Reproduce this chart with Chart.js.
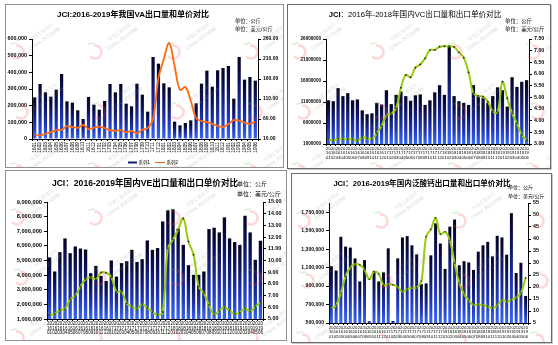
<!DOCTYPE html>
<html lang="zh-CN">
<head>
<meta charset="utf-8">
<title>JCI 出口量和出口单价对比</title>
<script src="https://cdn.jsdelivr.net/npm/chart.js@4.4.1/dist/chart.umd.min.js"></script>
<style>
html,body{margin:0;padding:0;background:#fff;}
body{position:relative;width:558px;height:345px;overflow:hidden;font-family:"Liberation Sans","Noto Sans CJK SC",sans-serif;color:#000;}
.panel{position:absolute;background:#fff;}
.panel canvas{position:absolute;left:0;top:0;}
.frame{position:absolute;left:0;top:0;right:0;bottom:0;border:1px solid #8f8f8f;pointer-events:none;}
.frame.dark{border-color:#6a6a6a;box-shadow:1px 1px 0 #c8c8c8;}
.t{position:absolute;white-space:nowrap;line-height:1;z-index:5;}
.title{font-weight:bold;transform:translate(-50%,-50%);}
.small{font-size:10px;transform-origin:0 0;}
.lg{position:absolute;top:0;}
</style>
</head>
<body>

<div class="panel" style="left:5px;top:4px;width:279px;height:164px"><canvas id="cVA" width="279" height="164"></canvas><div class="frame"></div></div>
<div class="panel" style="left:287px;top:4px;width:264px;height:165px"><canvas id="cVC" width="264" height="165"></canvas><div class="frame dark"></div></div>
<div class="panel" style="left:5px;top:170px;width:282px;height:171px"><canvas id="cVE" width="282" height="171"></canvas><div class="frame"></div></div>
<div class="panel" style="left:291px;top:173px;width:261px;height:170px"><canvas id="cCP" width="261" height="170"></canvas><div class="frame dark"></div></div>

<!-- titles and units -->
<div class="t title" style="left:133px;top:15px;font-size:8px">JCI:2016-2019年我国VA出口量和单价对比</div>
<div class="t small" style="left:235px;top:19.4px;transform:scale(.52)">单位：公斤</div>
<div class="t small" style="left:235px;top:26.9px;transform:scale(.52)">单位：美元/公斤</div>

<div class="t title" style="left:415px;top:15px;font-size:7.6px;font-weight:normal"><b>JCI</b>：2016年-2018年国内VC出口量和出口单价对比</div>
<div class="t small" style="left:505px;top:19.3px;transform:scale(.54)">单位：公斤</div>
<div class="t small" style="left:505px;top:27.3px;transform:scale(.54)">单位：美元/公斤</div>

<div class="t title" style="left:145px;top:183px;font-size:8.6px">JCI：2016-2019年国内VE出口量和出口单价对比</div>
<div class="t small" style="left:237px;top:181px;transform:scale(.6)">单位：公斤</div>
<div class="t small" style="left:237px;top:191px;transform:scale(.6)">单位：美元/公斤</div>

<div class="t title" style="left:422px;top:184px;font-size:7.6px">JCI：2016-2019年国内泛酸钙出口量和出口单价对比</div>
<div class="t small" style="left:508px;top:184.5px;transform:scale(.5)">单位：公斤</div>
<div class="t small" style="left:508px;top:193.5px;transform:scale(.5)">单位：美元/公斤</div>

<!-- legend of the VA chart -->
<div class="t small" style="left:128px;top:159.5px;width:110px;height:10px;transform:scale(.5)">
  <span class="lg" style="left:0;top:3px;width:18px;height:4px;background:#14206e"></span>
  <span class="lg" style="left:21px;font-size:9px">系列1</span>
  <span class="lg" style="left:54px;top:4px;width:20px;height:2px;background:#ff6a10"></span>
  <span class="lg" style="left:77px;font-size:9px">系列2</span>
</div>

<script>
// month categories, 2016-01 .. 2019-06
const MONTHS = ['1601','1602','1603','1604','1605','1606','1607','1608','1609','1610','1611','1612',
                '1701','1702','1703','1704','1705','1706','1707','1708','1709','1710','1711','1712',
                '1801','1802','1803','1804','1805','1806','1807','1808','1809','1810','1811','1812',
                '1901','1902','1903','1904','1905','1906'];

// VA: export quantity (kg) and unit price (USD/kg)
const VA_QTY = [250000,330000,280000,254000,296000,390000,226000,218000,172000,120000,252000,206000,
                176000,228000,330000,280000,330000,212000,196000,332000,266000,164000,492000,452000,
                334000,310000,104000,82000,96000,112000,214000,332000,410000,314000,412000,426000,
                438000,242000,492000,356000,372000,350000];
const VA_PRICE = [22,19,23,27,32,33,42,40,38,45,35,38,
                  41,37,32,30,32,27,30,24,33,37,60,162,
                  210,250,192,133,140,106,62,55,52,48,43,40,
                  47,57,56,51,48,53];
const VA_QTY_TICKS = [0,100000,200000,300000,400000,500000,600000];
const VA_PRICE_TICKS = [10,60,110,160,210,260];

// VC
const VC_QTY = [11400000,11200000,14300000,12400000,13100000,11400000,11600000,9000000,8100000,8300000,10800000,10400000,
                13800000,10500000,12700000,13500000,12400000,11300000,12600000,12800000,10300000,11400000,13300000,15000000,
                12700000,24200000,12400000,11200000,10800000,10300000,15000000,12400000,11900000,10800000,12400000,14500000,
                13800000,9900000,16900000,14600000,15800000,16200000];
const VC_PRICE = [3.21,3.14,3.24,3.19,3.21,3.20,3.13,3.30,3.24,3.21,3.46,3.77,
                  4.24,4.30,4.53,5.41,5.96,5.86,6.27,6.41,6.67,7.03,7.03,7.17,
                  7.19,7.19,7.16,6.93,6.70,6.07,5.17,5.06,5.03,4.81,4.41,4.36,
                  5.67,4.96,4.31,3.89,3.39,3.17];
const VC_QTY_TICKS = [1000000,6000000,11000000,16000000,21000000,26000000];
const VC_PRICE_TICKS = [3,3.5,4,4.5,5,5.5,6,6.5,7,7.5];

// VE
const VE_QTY = [5210000,4250000,5570000,6510000,5500000,5960000,5820000,5750000,4130000,4630000,3950000,3600000,
                5000000,3900000,4820000,4950000,5730000,4900000,5090000,6370000,5730000,5850000,7670000,8430000,
                8500000,7170000,6070000,4680000,4020000,4020000,4250000,7150000,7240000,6920000,7950000,6510000,
                6260000,6070000,8060000,6920000,5050000,6350000];
const VE_PRICE = [5.34,5.43,5.77,5.83,6.69,6.97,7.77,8.40,8.57,8.40,8.97,8.95,
                  8.57,7.34,7.34,6.34,6.06,5.83,6.29,5.95,5.60,5.35,5.60,11.06,
                  11.77,12.63,13.60,11.63,10.49,7.77,7.20,6.20,5.34,5.71,6.00,5.71,
                  5.43,5.54,5.91,5.63,6.06,6.40];
const VE_QTY_TICKS = [1000000,2000000,3000000,4000000,5000000,6000000,7000000,8000000,9000000];
const VE_PRICE_TICKS = [5,6,7,8,9,10,11,12,13,14,15];

// calcium pantothenate
const CP_QTY = [1115000,1068000,1434000,1328000,1317000,1200000,950000,1181000,518000,1060000,950000,1049000,
                1309000,522000,1200000,1427000,1441000,1342000,1243000,921000,929000,1233000,1580000,1361000,
                1086000,1544000,1621000,1126000,1170000,1156000,1075000,1273000,1342000,1379000,1222000,1445000,
                1427000,1240000,1690000,1042000,1152000,793000];
const CP_PRICE = [11.0,12.4,17.5,24.5,28.2,29.5,29.2,27.2,23.2,26.4,25.4,20.8,
                  21.2,20.9,20.1,18.0,19.1,19.7,19.8,22.5,41.0,44.0,48.8,42.0,
                  43.0,39.5,30.0,21.8,17.0,14.5,12.5,12.8,12.4,11.8,11.3,12.2,
                  14.5,14.0,14.5,15.8,17.5,23.8];
const CP_QTY_TICKS = [500000,700000,900000,1100000,1300000,1500000,1700000];
const CP_QTY_MAX = 1800000;
const CP_PRICE_TICKS = [5,10,15,20,25,30,35,40,45,50,55];

const FONT = '"Liberation Sans", "Noto Sans CJK SC", sans-serif';
const stacked = m => ['20', m.slice(0, 2), m.slice(2)];

// each bar gets its own navy-top / blue-bottom gradient
function barFill(ctx) {
  const chart = ctx.chart, area = chart.chartArea;
  if (!area || ctx.type !== 'data') return '#1a2a80';
  const top = chart.scales.y.getPixelForValue(ctx.raw);
  const g = chart.ctx.createLinearGradient(0, top, 0, area.bottom);
  g.addColorStop(0, '#030320');
  g.addColorStop(0.3, '#0c1460');
  g.addColorStop(0.7, '#2038b8');
  g.addColorStop(1, '#3566f5');
  return g;
}

// faint site watermark tiled over every panel
const watermark = {
  id: 'watermark',
  afterDatasetsDraw(chart) {
    const c = chart.ctx;
    c.save();
    for (let row = 0, y = 48; y < chart.height + 30; y += 60, row++) {
      for (let x = 12 + (row % 2) * 4; x < chart.width + 20; x += 78) {
        c.lineCap = 'round';
        c.strokeStyle = 'rgba(235,80,80,0.22)';
        c.lineWidth = 2.6;
        c.beginPath();
        c.arc(x, y, 6.5, -Math.PI * 0.5, Math.PI * 0.72);
        c.stroke();
        c.strokeStyle = 'rgba(90,200,90,0.25)';
        c.lineWidth = 1.6;
        c.beginPath();
        c.moveTo(x - 6, y - 8);
        c.lineTo(x - 1, y - 9);
        c.stroke();
        c.translate(x + 12, y - 4);
        c.rotate(-0.62);
        c.fillStyle = 'rgba(140,140,140,0.28)';
        c.font = '4.5px ' + FONT;
        c.fillText('中国汇易资讯', 6, -4);
        c.font = 'bold 5px ' + FONT;
        c.fillText('China JCI.COM', 0, 3);
        c.setTransform(1, 0, 0, 1, 0, 0);
      }
    }
    c.restore();
  }
};

function axisSide(pos, ticks, min, max, width, fmt, size, weight) {
  return {
    position: pos,
    min: min, max: max,
    afterBuildTicks: s => { s.ticks = ticks.map(v => ({ value: v })); },
    afterFit: s => { s.width = width; },
    grid: { drawOnChartArea: false, drawTicks: true, tickLength: 3, color: '#000', lineWidth: 1 },
    border: { display: true, color: '#000', width: 1 },
    ticks: { callback: fmt, padding: 2, color: '#000', font: { family: FONT, size: size, weight: weight } }
  };
}

function makeChart(id, cfg) {
  const p = cfg.panel, r = cfg.plot;
  const leftW = r.l - p.x, rightW = p.w - (r.r - p.x);
  const top = r.t - p.y, bottom = p.h - (r.b - p.y) - cfg.xH;
  return new Chart(document.getElementById(id), {
    data: {
      labels: cfg.labels,
      datasets: [
        { type: 'line', data: cfg.price, yAxisID: 'y2', order: 0,
          borderColor: cfg.lineColor, borderWidth: cfg.lineWidth, tension: 0.38,
          pointRadius: cfg.pointRadius, pointBackgroundColor: '#26301a', pointBorderWidth: 0 },
        { type: 'bar', data: cfg.qty, yAxisID: 'y', order: 1,
          backgroundColor: barFill, barPercentage: cfg.barPct, categoryPercentage: 1 }
      ]
    },
    options: {
      responsive: false, animation: false, devicePixelRatio: 1,
      layout: { autoPadding: false, padding: { left: 0, right: 0, top: top, bottom: bottom } },
      plugins: { legend: { display: false }, tooltip: { enabled: false } },
      scales: {
        x: {
          afterFit: s => { s.height = cfg.xH; },
          grid: { drawOnChartArea: false, tickLength: 2, color: '#000' },
          border: { display: true, color: '#000', width: 1 },
          ticks: Object.assign({ autoSkip: false, color: '#000', padding: 1 }, cfg.xTicks)
        },
        y: axisSide('left', cfg.qtyTicks, cfg.qtyTicks[0], cfg.qtyMax || cfg.qtyTicks[cfg.qtyTicks.length - 1],
                    leftW, cfg.qtyFmt, cfg.ySize, 'bold'),
        y2: axisSide('right', cfg.priceTicks, cfg.priceTicks[0], cfg.priceTicks[cfg.priceTicks.length - 1],
                     rightW, cfg.priceFmt, cfg.y2Size, 'bold')
      }
    },
    plugins: [watermark]
  });
}

const comma = v => v.toLocaleString('en-US');
const fixed2 = v => v.toFixed(2);

makeChart('cVA', {
  panel: { x: 5, y: 4, w: 279, h: 164 }, plot: { l: 32, r: 258, t: 39, b: 139 }, xH: 17,
  labels: MONTHS, qty: VA_QTY, price: VA_PRICE,
  qtyTicks: VA_QTY_TICKS, priceTicks: VA_PRICE_TICKS, qtyFmt: comma, priceFmt: fixed2,
  ySize: 5.4, y2Size: 5, barPct: 0.6,
  lineColor: '#ff6a10', lineWidth: 1.8, pointRadius: 0,
  xTicks: { minRotation: 90, maxRotation: 90, font: { family: FONT, size: 4.8 } }
});

makeChart('cVC', {
  panel: { x: 287, y: 4, w: 264, h: 165 }, plot: { l: 326, r: 529, t: 39, b: 144 }, xH: 17,
  labels: MONTHS.map(stacked), qty: VC_QTY, price: VC_PRICE,
  qtyTicks: VC_QTY_TICKS, priceTicks: VC_PRICE_TICKS, qtyFmt: v => String(v), priceFmt: fixed2,
  ySize: 4.6, y2Size: 5.3, barPct: 0.68,
  lineColor: '#99cc10', lineWidth: 2, pointRadius: 0.9,
  xTicks: { minRotation: 0, maxRotation: 0, font: { family: FONT, size: 4.2, lineHeight: 1 } }
});

makeChart('cVE', {
  panel: { x: 5, y: 170, w: 282, h: 171 }, plot: { l: 47, r: 263, t: 202, b: 319 }, xH: 19,
  labels: MONTHS.map(stacked), qty: VE_QTY, price: VE_PRICE,
  qtyTicks: VE_QTY_TICKS, priceTicks: VE_PRICE_TICKS, qtyFmt: comma, priceFmt: fixed2,
  ySize: 5.7, y2Size: 5.4, barPct: 0.65,
  lineColor: '#99cc10', lineWidth: 2, pointRadius: 0.9,
  xTicks: { minRotation: 0, maxRotation: 0, font: { family: FONT, size: 4.5, lineHeight: 1 } }
});

makeChart('cCP', {
  panel: { x: 291, y: 173, w: 261, h: 170 }, plot: { l: 329, r: 528, t: 203, b: 323 }, xH: 17,
  labels: MONTHS.map(stacked), qty: CP_QTY, price: CP_PRICE,
  qtyTicks: CP_QTY_TICKS, qtyMax: CP_QTY_MAX, priceTicks: CP_PRICE_TICKS, qtyFmt: comma, priceFmt: v => String(v),
  ySize: 5.1, y2Size: 5.3, barPct: 0.63,
  lineColor: '#99cc10', lineWidth: 2, pointRadius: 0.8,
  xTicks: { minRotation: 0, maxRotation: 0, font: { family: FONT, size: 4.2, lineHeight: 1 } }
});
</script>
</body>
</html>
